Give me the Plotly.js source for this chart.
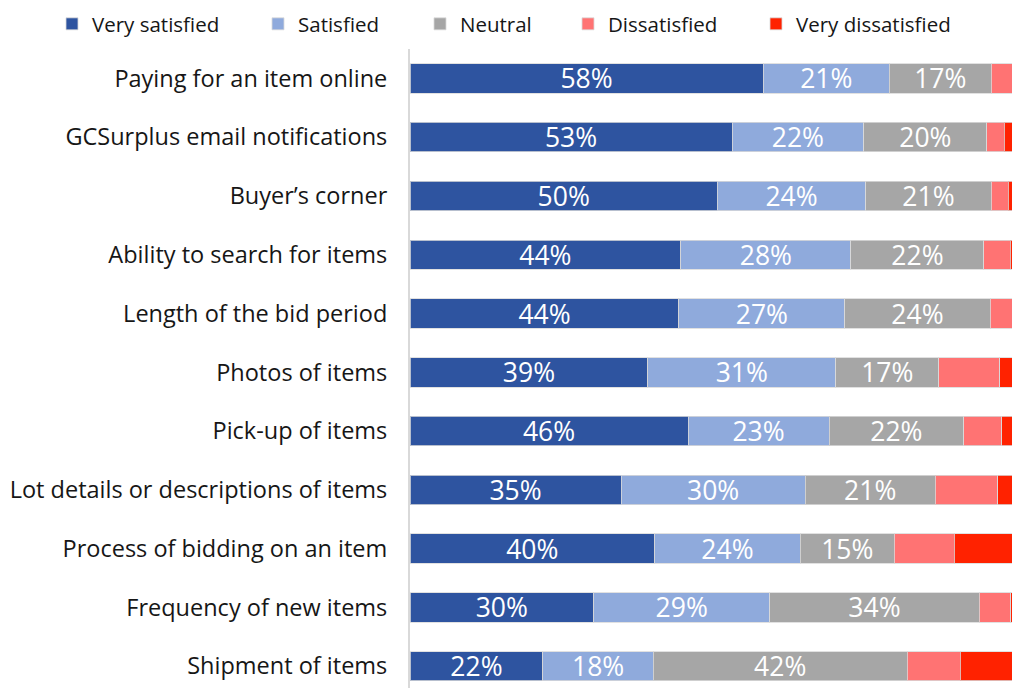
<!DOCTYPE html>
<html>
<head>
<meta charset="utf-8">
<script src="https://cdn.plot.ly/plotly-3.0.1.min.js"></script>
<style>html,body{margin:0;padding:0;background:#fff;}#chart{width:1012px;height:688px;}</style>
</head>
<body>
<div id="chart"></div>
<script>
const categories = [
  "Paying for an item online",
  "GCSurplus email notifications",
  "Buyer\u2019s corner",
  "Ability to search for items",
  "Length of the bid period",
  "Photos of items",
  "Pick-up of items",
  "Lot details or descriptions of items",
  "Process of bidding on an item",
  "Frequency of new items",
  "Shipment of items"
];
const seriesNames = ["Very satisfied", "Satisfied", "Neutral", "Dissatisfied", "Very dissatisfied"];
const verySatisfied    = [57.9, 52.8, 50.4, 44.4, 44.1, 39.0, 45.6, 34.6, 40.1, 30.1, 21.8];
const satisfied        = [20.7, 21.6, 24.3, 27.9, 27.2, 30.8, 23.1, 30.2, 23.9, 28.9, 18.1];
const neutral          = [16.7, 20.2, 20.6, 21.8, 23.8, 16.9, 22.1, 21.3, 15.4, 34.3, 41.6];
const dissatisfied     = [4.7, 2.8, 2.8, 4.3, 4.9, 10.0, 6.2, 10.3, 9.8, 5.2, 8.7];
const veryDissatisfied = [0, 2.6, 1.9, 1.6, 0, 3.3, 3.0, 3.6, 10.8, 1.5, 9.8];

const seriesValues = [verySatisfied, satisfied, neutral, dissatisfied, veryDissatisfied];
const colors = ["#2E54A0", "#8FAADC", "#A6A6A6", "#FF7373", "#FF2200"];
const showLabels = [true, true, true, false, false];
const legendTextX = [90, 296, 458, 606, 794];

const FONT = "Open Sans, Noto Sans, sans-serif";

const traces = seriesValues.map((vals, i) => ({
  type: "bar",
  orientation: "h",
  name: seriesNames[i],
  y: categories,
  x: vals,
  marker: { color: colors[i], line: { color: "rgba(217,217,217,0.8)", width: 1 } },
  texttemplate: showLabels[i] ? "%{x:.0f}%" : "",
  textposition: showLabels[i] ? "inside" : "none",
  insidetextanchor: "middle",
  constraintext: "none",
  textfont: { family: FONT, size: 26.5, color: "#ffffff" },
  hoverinfo: "skip",
  legend: i === 0 ? "legend" : "legend" + (i + 1)
}));

const layout = {
  width: 1012,
  height: 688,
  barmode: "stack",
  bargap: 0.5,
  paper_bgcolor: "#ffffff",
  plot_bgcolor: "#ffffff",
  margin: { l: 410, r: 0, t: 49, b: 0, pad: 0 },
  font: { family: FONT, color: "#1a1a1a" },
  xaxis: {
    range: [0, 98.7],
    visible: false,
    fixedrange: true
  },
  yaxis: {
    type: "category",
    categoryorder: "array",
    categoryarray: categories,
    range: [10.37, -0.5],
    autorange: false,
    showline: true,
    linecolor: "#d9d9d9",
    linewidth: 2,
    showgrid: false,
    zeroline: false,
    ticks: "",
    ticklabelstandoff: 16,
    tickfont: { family: FONT, size: 23.5, color: "#161616" },
    automargin: false,
    fixedrange: true
  },
  showlegend: true
};

legendTextX.forEach((tx, i) => {
  const key = i === 0 ? "legend" : "legend" + (i + 1);
  layout[key] = {
    orientation: "h",
    xref: "container",
    yref: "container",
    x: (tx - 38) / 1012,
    xanchor: "left",
    y: 1 - 24 / 688,
    yanchor: "middle",
    bgcolor: "rgba(0,0,0,0)",
    borderwidth: 0,
    font: { family: FONT, size: 20.5, color: "#161616" }
  };
});

Plotly.newPlot("chart", traces, layout, { displayModeBar: false, staticPlot: true });
</script>
</body>
</html>
